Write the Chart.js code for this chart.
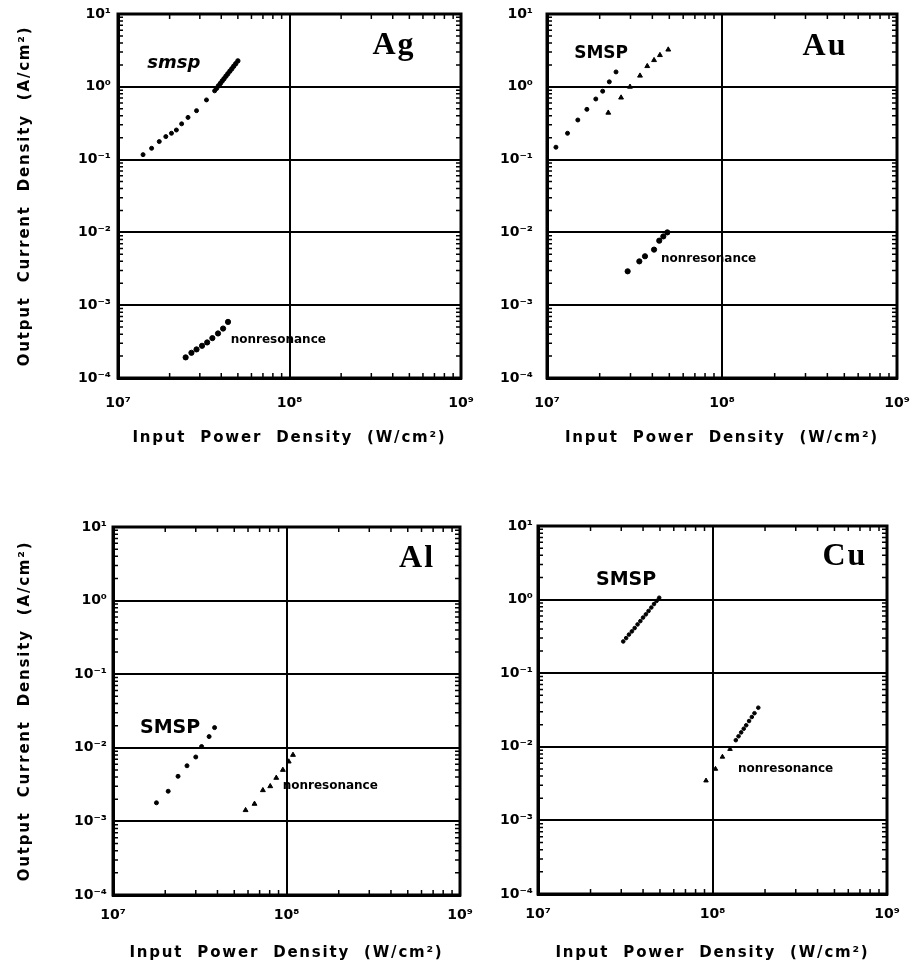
<!DOCTYPE html>
<html>
<head>
<meta charset="utf-8">
<title>Output current density vs input power density</title>
<script src="https://cdn.jsdelivr.net/npm/chart.js@4/dist/chart.umd.min.js"></script>
<style>
  body { margin: 0; background: #fff; }
  canvas { position: absolute; }
</style>
</head>
<body>
<canvas id="agChart" width="490" height="462" style="left:0;top:0"></canvas>
<canvas id="auChart" width="446" height="462" style="left:466px;top:0"></canvas>
<canvas id="alChart" width="490" height="510" style="left:0;top:462px"></canvas>
<canvas id="cuChart" width="446" height="510" style="left:466px;top:462px"></canvas>
<script>
// ========== Axis ticks ==========
const xTicks = [1e7, 1e8, 1e9];
const xTickLabels = ['10⁷', '10⁸', '10⁹'];
const yTicks = [1e-4, 1e-3, 1e-2, 1e-1, 1e0, 1e1];
const yTickLabels = ['10⁻⁴', '10⁻³', '10⁻²', '10⁻¹', '10⁰', '10¹'];

// ========== Ag ==========
const agSmspX = [1.40e7, 1.57e7, 1.74e7, 1.90e7, 2.05e7, 2.19e7, 2.35e7, 2.56e7, 2.87e7, 3.28e7, 3.66e7];
const agSmspY = [0.117, 0.143, 0.177, 0.207, 0.23, 0.255, 0.31, 0.38, 0.47, 0.66, 0.88];
const agSmspTailX = [3.75e7, 3.85e7, 3.95e7, 4.05e7, 4.15e7, 4.26e7, 4.37e7, 4.49e7, 4.61e7, 4.73e7, 4.86e7, 5.0e7];
const agSmspTailY = [0.95, 1.03, 1.11, 1.2, 1.29, 1.40, 1.51, 1.64, 1.77, 1.92, 2.08, 2.27];
const agNonresX = [2.48e7, 2.68e7, 2.87e7, 3.09e7, 3.31e7, 3.55e7, 3.83e7, 4.10e7, 4.38e7];
const agNonresY = [1.92e-4, 2.22e-4, 2.47e-4, 2.77e-4, 3.08e-4, 3.53e-4, 4.09e-4, 4.78e-4, 5.9e-4];

// ========== Au ==========
const auSmspX = [1.125e7, 1.31e7, 1.50e7, 1.69e7, 1.90e7, 2.08e7, 2.27e7, 2.48e7];
const auSmspY = [0.148, 0.23, 0.35, 0.49, 0.68, 0.87, 1.17, 1.60];
const auSmsp2X = [2.24e7, 2.65e7, 2.98e7, 3.40e7, 3.74e7, 4.09e7, 4.42e7, 4.93e7];
const auSmsp2Y = [0.44, 0.71, 1.0, 1.42, 1.92, 2.32, 2.72, 3.24];
const auNonresX = [2.89e7, 3.37e7, 3.63e7, 4.09e7, 4.38e7, 4.62e7, 4.87e7];
const auNonresY = [2.92e-3, 4.0e-3, 4.7e-3, 5.8e-3, 7.7e-3, 8.8e-3, 1.0e-2];

// ========== Al ==========
const alSmspX = [1.78e7, 2.08e7, 2.37e7, 2.67e7, 3.0e7, 3.24e7, 3.58e7, 3.85e7];
const alSmspY = [1.79e-3, 2.57e-3, 4.1e-3, 5.7e-3, 7.5e-3, 1.04e-2, 1.42e-2, 1.88e-2];
const alNonresX = [5.81e7, 6.54e7, 7.31e7, 8.06e7, 8.73e7, 9.53e7, 1.03e8, 1.09e8];
const alNonresY = [1.42e-3, 1.73e-3, 2.65e-3, 3.0e-3, 3.9e-3, 5.0e-3, 6.5e-3, 8.0e-3];

// ========== Cu ==========
const cuSmspX = [3.08e7, 3.2e7, 3.32e7, 3.45e7, 3.58e7, 3.72e7, 3.86e7, 4.0e7, 4.15e7, 4.3e7, 4.46e7, 4.62e7, 4.78e7, 4.95e7];
const cuSmspY = [0.27, 0.30, 0.335, 0.37, 0.41, 0.46, 0.51, 0.57, 0.63, 0.70, 0.78, 0.87, 0.96, 1.06];
const cuNonresX = [9.18e7, 1.04e8, 1.14e8, 1.26e8];
const cuNonresY = [3.47e-3, 5.0e-3, 7.3e-3, 9.3e-3];
const cuNonresTailX = [1.36e8, 1.41e8, 1.46e8, 1.51e8, 1.56e8, 1.62e8, 1.68e8, 1.74e8, 1.83e8];
const cuNonresTailY = [0.0123, 0.0139, 0.0157, 0.0176, 0.0196, 0.0224, 0.0254, 0.0286, 0.034];

Chart.defaults.font.family = '"DejaVu Sans", sans-serif';
Chart.defaults.color = '#000';

function pts(xs, ys) {
    return xs.map((x, i) => ({ x: x, y: ys[i] }));
}

function series(xs, ys, style, radius) {
    return {
        data: pts(xs, ys),
        showLine: false,
        pointStyle: style,
        pointRadius: radius,
        pointBackgroundColor: '#000',
        pointBorderColor: '#000',
        pointBorderWidth: 1
    };
}

// ========== Frame, minor ticks and labels ==========
const paperPlugin = {
    id: 'paper',
    beforeDatasetsDraw(chart) {
        const { ctx, chartArea: a, scales } = chart;
        ctx.save();
        ctx.strokeStyle = '#000';
        ctx.lineWidth = 1.5;
        ctx.beginPath();
        for (let k = 7; k < 9; k++) {
            for (let m = 2; m <= 9; m++) {
                const px = scales.x.getPixelForValue(m * Math.pow(10, k));
                ctx.moveTo(px, a.bottom); ctx.lineTo(px, a.bottom - 5);
                ctx.moveTo(px, a.top); ctx.lineTo(px, a.top + 5);
            }
        }
        for (let k = -4; k < 1; k++) {
            for (let m = 2; m <= 9; m++) {
                const py = scales.y.getPixelForValue(m * Math.pow(10, k));
                ctx.moveTo(a.left, py); ctx.lineTo(a.left + 5, py);
                ctx.moveTo(a.right, py); ctx.lineTo(a.right - 5, py);
            }
        }
        ctx.stroke();
        ctx.lineWidth = 3;
        ctx.strokeRect(a.left, a.top, a.right - a.left, a.bottom - a.top);
        ctx.restore();
    },
    afterDraw(chart, args, opts) {
        const { ctx, chartArea: a, scales } = chart;
        ctx.save();
        ctx.fillStyle = '#000';
        ctx.textBaseline = 'middle';

        // element symbol
        ctx.font = 'bold 32px "Liberation Serif", serif';
        ctx.letterSpacing = '2px';
        ctx.textAlign = 'center';
        ctx.fillText(opts.element, scales.x.getPixelForValue(opts.elementAt[0]), scales.y.getPixelForValue(opts.elementAt[1]));

        // curve notes
        ctx.letterSpacing = '0px';
        ctx.textAlign = 'left';
        opts.notes.forEach(n => {
            ctx.font = n.font;
            ctx.fillText(n.text, scales.x.getPixelForValue(n.x), scales.y.getPixelForValue(n.y));
        });

        // axis titles
        ctx.font = 'bold 15px "DejaVu Sans", sans-serif';
        ctx.letterSpacing = '1.8px';
        ctx.textAlign = 'center';
        ctx.fillText('Input  Power  Density  (W/cm²)', (a.left + a.right) / 2, a.bottom + opts.xTitleGap);
        if (opts.yTitleX) {
            ctx.translate(opts.yTitleX, (a.top + a.bottom) / 2);
            ctx.rotate(-Math.PI / 2);
            ctx.fillText('Output  Current  Density  (A/cm²)', 0, 0);
        }
        ctx.restore();
    }
};

function makePanel(id, datasets, layout, paper) {
    const tickFont = { size: 14, weight: 'bold' };
    new Chart(document.getElementById(id), {
        type: 'scatter',
        data: { datasets: datasets },
        options: {
            responsive: false,
            animation: false,
            layout: { padding: layout.padding },
            plugins: { legend: { display: false }, tooltip: { enabled: false }, paper: paper },
            scales: {
                x: {
                    type: 'logarithmic', min: 1e7, max: 1e9,
                    afterBuildTicks: s => { s.ticks = xTicks.map(v => ({ value: v })); },
                    afterFit: s => { s.height = layout.xh; s.paddingLeft = 0; s.paddingRight = 0; },
                    ticks: { autoSkip: false, maxRotation: 0, padding: layout.xpad, font: tickFont, color: '#000',
                        callback: (v, i) => xTickLabels[i] },
                    grid: { color: '#000', lineWidth: 2, drawTicks: false },
                    border: { color: '#000', width: 3 }
                },
                y: {
                    type: 'logarithmic', min: 1e-4, max: 1e1,
                    afterBuildTicks: s => { s.ticks = yTicks.map(v => ({ value: v })); },
                    afterFit: s => { s.width = layout.yw; s.paddingTop = 0; s.paddingBottom = 0; },
                    ticks: { autoSkip: false, padding: layout.ypad, font: tickFont, color: '#000',
                        callback: (v, i) => yTickLabels[i] },
                    grid: { color: '#000', lineWidth: 2, drawTicks: false },
                    border: { color: '#000', width: 3 }
                }
            }
        },
        plugins: [paperPlugin]
    });
}

const noteSmall = 'bold 12px "DejaVu Sans", sans-serif';
const noteBig = 'bold 19px "DejaVu Sans", sans-serif';

makePanel('agChart', [
    series(agSmspX, agSmspY, 'circle', 2),
    series(agSmspTailX, agSmspTailY, 'circle', 2.2),
    series(agNonresX, agNonresY, 'circle', 2.6)
], { padding: { left: 0, right: 29, top: 14, bottom: 0 }, xh: 84, yw: 118, xpad: 17, ypad: 7 }, {
    element: 'Ag', elementAt: [4.07e8, 3.64],
    notes: [
        { text: 'smsp', x: 1.48e7, y: 2.13, font: 'bold italic 18px "DejaVu Sans", sans-serif' },
        { text: 'nonresonance', x: 4.54e7, y: 3.3e-4, font: noteSmall }
    ],
    xTitleGap: 60, yTitleX: 25
});

makePanel('auChart', [
    series(auSmspX, auSmspY, 'circle', 2),
    series(auSmsp2X, auSmsp2Y, 'triangle', 2.8),
    series(auNonresX, auNonresY, 'circle', 2.6)
], { padding: { left: 0, right: 15, top: 14, bottom: 0 }, xh: 84, yw: 81, xpad: 17, ypad: 14 }, {
    element: 'Au', elementAt: [3.88e8, 3.53],
    notes: [
        { text: 'SMSP', x: 1.43e7, y: 2.83, font: 'bold 17px "DejaVu Sans", sans-serif' },
        { text: 'nonresonance', x: 4.48e7, y: 4.27e-3, font: noteSmall }
    ],
    xTitleGap: 60, yTitleX: 0
});

makePanel('alChart', [
    series(alSmspX, alSmspY, 'circle', 2),
    series(alNonresX, alNonresY, 'triangle', 2.8)
], { padding: { left: 0, right: 30, top: 65, bottom: 0 }, xh: 77, yw: 113, xpad: 12, ypad: 6 }, {
    element: 'Al', elementAt: [5.66e8, 3.7],
    notes: [
        { text: 'SMSP', x: 1.43e7, y: 1.86e-2, font: noteBig },
        { text: 'nonresonance', x: 9.5e7, y: 3.06e-3, font: noteSmall }
    ],
    xTitleGap: 58, yTitleX: 25
});

makePanel('cuChart', [
    series(cuSmspX, cuSmspY, 'circle', 1.8),
    series(cuNonresX, cuNonresY, 'triangle', 2.6),
    series(cuNonresTailX, cuNonresTailY, 'circle', 1.8)
], { padding: { left: 0, right: 25, top: 64, bottom: 0 }, xh: 78, yw: 72, xpad: 12, ypad: 5 }, {
    element: 'Cu', elementAt: [5.74e8, 3.8],
    notes: [
        { text: 'SMSP', x: 2.15e7, y: 1.86, font: noteBig },
        { text: 'nonresonance', x: 1.40e8, y: 5.04e-3, font: noteSmall }
    ],
    xTitleGap: 59, yTitleX: 0
});
</script>
</body>
</html>
